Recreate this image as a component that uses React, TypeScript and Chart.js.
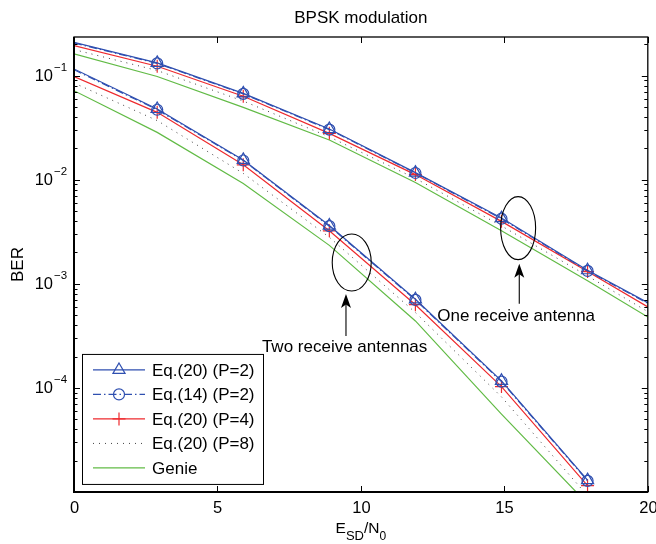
import React, { useEffect, useRef } from "react";
import { Chart, registerables } from "chart.js";
Chart.register(...registerables);

// ---------- data ----------
const snrOne = [0, 2.9, 5.9, 8.9, 11.9, 14.9, 17.9, 20];
const snrTwo = [0, 2.9, 5.9, 8.9, 11.9, 14.9, 17.9];

const eq20P2One = [0.209, 0.1325, 0.0676, 0.0307, 0.0117, 0.00428, 0.00135, 0.00066];
const eq14P2One = [0.206, 0.131, 0.0668, 0.0303, 0.0116, 0.00422, 0.00133, 0.00065];
const eq20P4One = [0.194, 0.123, 0.0633, 0.0279, 0.0112, 0.00398, 0.00131, 0.0006];
const eq20P8One = [0.178, 0.112, 0.057, 0.0258, 0.0103, 0.0036, 0.00119, 0.00054];
const genieOne = [0.162, 0.098, 0.0495, 0.0241, 0.0094, 0.00323, 0.00107, 0.00048];

const eq20P2Two = [0.116, 0.0478, 0.0155, 0.00363, 0.00071, 0.000117, 0.000013];
const eq14P2Two = [0.114, 0.047, 0.0153, 0.00358, 0.0007, 0.000115, 0.0000128];
const eq20P4Two = [0.098, 0.0444, 0.0139, 0.00323, 0.00063, 0.000103, 0.0000115];
const eq20P8Two = [0.085, 0.037, 0.0115, 0.0028, 0.00053, 0.000082, 0.0000092];
const genieTwo = [0.0717, 0.0285, 0.0092, 0.00234, 0.00044, 0.000056, 0.0000077];

const xTickValues = [0, 5, 10, 15, 20];
const yDecadeExponents = [-1, -2, -3, -4];
const legendLabels = ["Eq.(20) (P=2)", "Eq.(14) (P=2)", "Eq.(20) (P=4)", "Eq.(20) (P=8)", "Genie"];
const titleText = "BPSK modulation";
const yTitle = "BER";

const annotations = [
  { text: "Two receive antennas", textX: 6.55, textY: 2.43e-4, cx: 9.68, cy: 1.6e-3, arrowX: 9.48, arrowFrom: 3.16e-4, arrowTo: 8.0e-4 },
  { text: "One receive antenna", textX: 12.66, textY: 4.92e-4, cx: 15.48, cy: 3.43e-3, arrowX: 15.52, arrowFrom: 6.43e-4, arrowTo: 1.56e-3 },
];
const ellipseRadii = [[19.5, 28.5], [17.5, 31.5]];

// ---------- styles ----------
const FONT = '"Liberation Sans", Arial, Helvetica, sans-serif';
const BLUE = "#2f4fb0";
const RED = "#ee2a2e";
const GREEN = "#62bb46";
const DOT = "#444444";

type Style = {
  color: string;
  dash: number[];
  point: any;
  radius: number;
  width: number;
};
const styles: Style[] = [
  { color: BLUE, dash: [], point: "triangle", radius: 7, width: 1.2 },
  { color: BLUE, dash: [8, 3, 1.5, 3], point: "circle", radius: 5.5, width: 1.2 },
  { color: RED, dash: [], point: "cross", radius: 6.5, width: 1.2 },
  { color: DOT, dash: [1, 5], point: false, radius: 0, width: 1 },
  { color: GREEN, dash: [], point: false, radius: 0, width: 1.2 },
];

function makeDataset(xs: number[], ys: number[], s: Style) {
  return {
    data: xs.map((x, i) => ({ x, y: ys[i] })),
    borderColor: s.color,
    borderWidth: s.width,
    borderDash: s.dash,
    backgroundColor: "rgba(0,0,0,0)",
    pointStyle: s.point,
    pointRadius: (c: any) => (c.dataIndex === 0 || c.raw?.x >= 20 || !s.point ? 0 : s.radius),
    pointBorderColor: s.color,
    pointBackgroundColor: "rgba(0,0,0,0)",
    pointBorderWidth: 1.2,
    pointHoverRadius: 0,
    tension: 0,
    fill: false,
  };
}

function drawMarker(ctx: CanvasRenderingContext2D, style: Style, x: number, y: number) {
  if (!style.point) return;
  ctx.save();
  ctx.strokeStyle = style.color;
  ctx.lineWidth = 1.2;
  ctx.setLineDash([]);
  ctx.beginPath();
  if (style.point === "triangle") {
    const r = style.radius;
    for (let k = 0; k < 3; k++) {
      const a = (k * 2 * Math.PI) / 3;
      const px = x + Math.sin(a) * r;
      const py = y - Math.cos(a) * r;
      if (k === 0) ctx.moveTo(px, py);
      else ctx.lineTo(px, py);
    }
    ctx.closePath();
  } else if (style.point === "circle") {
    ctx.arc(x, y, style.radius, 0, Math.PI * 2);
  } else if (style.point === "cross") {
    const r = style.radius;
    ctx.moveTo(x - r, y);
    ctx.lineTo(x + r, y);
    ctx.moveTo(x, y - r);
    ctx.lineTo(x, y + r);
  }
  ctx.stroke();
  ctx.restore();
}

const decorPlugin = {
  id: "decor",
  afterDraw(chart: any) {
    const ctx: CanvasRenderingContext2D = chart.ctx;
    const { left, right, top, bottom } = chart.chartArea;
    const xs = chart.scales.x;
    const ys = chart.scales.y;
    ctx.save();
    ctx.fillStyle = "#000";
    ctx.strokeStyle = "#000";
    ctx.setLineDash([]);

    // frame
    ctx.lineWidth = 1.3;
    ctx.strokeRect(left, top, right - left, bottom - top);
    ctx.lineWidth = 2;
    ctx.beginPath();
    ctx.moveTo(left, top);
    ctx.lineTo(left, bottom);
    ctx.lineTo(right, bottom);
    ctx.stroke();

    // x ticks
    ctx.lineWidth = 1;
    ctx.font = `16.5px ${FONT}`;
    ctx.textAlign = "center";
    ctx.textBaseline = "middle";
    for (const t of xTickValues) {
      const px = Math.round(xs.getPixelForValue(t)) + 0.5;
      ctx.beginPath();
      ctx.moveTo(px, bottom);
      ctx.lineTo(px, bottom - 6);
      ctx.moveTo(px, top);
      ctx.lineTo(px, top + 6);
      ctx.stroke();
      ctx.fillText(String(t), px, bottom + 16);
    }

    // y ticks
    for (let e = -5; e <= 0; e++) {
      for (let m = 1; m <= 9; m++) {
        const v = m * Math.pow(10, e);
        if (v < ys.min * 0.999 || v > ys.max) continue;
        const py = Math.round(ys.getPixelForValue(v)) + 0.5;
        const len = m === 1 ? 6 : 3.5;
        ctx.beginPath();
        ctx.moveTo(left, py);
        ctx.lineTo(left + len, py);
        ctx.moveTo(right, py);
        ctx.lineTo(right - len, py);
        ctx.stroke();
      }
    }
    for (const e of yDecadeExponents) {
      const py = ys.getPixelForValue(Math.pow(10, e));
      ctx.font = `16.5px ${FONT}`;
      ctx.textAlign = "right";
      ctx.textBaseline = "middle";
      ctx.fillText("10", left - 21, py + 1);
      ctx.font = `11.5px ${FONT}`;
      ctx.textAlign = "left";
      ctx.fillText("\u2212" + String(-e), left - 20, py - 8);
    }

    // title
    ctx.font = `17px ${FONT}`;
    ctx.textAlign = "center";
    ctx.textBaseline = "alphabetic";
    ctx.fillText(titleText, (left + right) / 2, top - 14);

    // y title
    ctx.save();
    ctx.translate(left - 56, (top + bottom) / 2 + 0);
    ctx.rotate(-Math.PI / 2);
    ctx.font = `17px ${FONT}`;
    ctx.textAlign = "center";
    ctx.textBaseline = "middle";
    ctx.fillText(yTitle, 0, 0);
    ctx.restore();

    // x title: E_SD/N_0
    {
      const parts = [
        { t: "E", f: 15.5, dy: 0 },
        { t: "SD", f: 13, dy: 7 },
        { t: "/N", f: 15.5, dy: 0 },
        { t: "0", f: 12, dy: 7 },
      ];
      let total = 0;
      for (const p of parts) {
        ctx.font = `${p.f}px ${FONT}`;
        total += ctx.measureText(p.t).width;
      }
      let x0 = (left + right) / 2 - total / 2;
      const base = bottom + 41;
      ctx.textAlign = "left";
      ctx.textBaseline = "alphabetic";
      for (const p of parts) {
        ctx.font = `${p.f}px ${FONT}`;
        ctx.fillText(p.t, x0, base + p.dy);
        x0 += ctx.measureText(p.t).width;
      }
    }

    // annotations
    annotations.forEach((a, i) => {
      const cx = xs.getPixelForValue(a.cx);
      const cy = ys.getPixelForValue(a.cy);
      ctx.lineWidth = 1.1;
      ctx.strokeStyle = "#000";
      ctx.beginPath();
      ctx.ellipse(cx, cy, ellipseRadii[i][0], ellipseRadii[i][1], 0, 0, Math.PI * 2);
      ctx.stroke();
      const ax = xs.getPixelForValue(a.arrowX);
      const y1 = ys.getPixelForValue(a.arrowFrom);
      const y2 = ys.getPixelForValue(a.arrowTo);
      ctx.beginPath();
      ctx.moveTo(ax, y1);
      ctx.lineTo(ax, y2 + 8);
      ctx.stroke();
      ctx.beginPath();
      ctx.moveTo(ax, y2);
      ctx.lineTo(ax - 5, y2 + 14);
      ctx.lineTo(ax, y2 + 10.5);
      ctx.lineTo(ax + 5, y2 + 14);
      ctx.closePath();
      ctx.fill();
      ctx.font = `17px ${FONT}`;
      ctx.textAlign = "left";
      ctx.textBaseline = "middle";
      ctx.fillText(a.text, xs.getPixelForValue(a.textX), ys.getPixelForValue(a.textY));
    });

    // legend
    {
      const lx = left + 8;
      const ly = ys.getPixelForValue(2.12e-4);
      const lw = 181;
      const lh = 130;
      ctx.fillStyle = "#fff";
      ctx.fillRect(lx, ly, lw, lh);
      ctx.lineWidth = 1;
      ctx.strokeStyle = "#000";
      ctx.strokeRect(lx + 0.5, ly + 0.5, lw, lh);
      legendLabels.forEach((label, i) => {
        const s = styles[i];
        const y = ly + 16 + i * 24.5;
        ctx.save();
        ctx.strokeStyle = s.color;
        ctx.lineWidth = s.width;
        ctx.setLineDash(s.dash);
        ctx.beginPath();
        ctx.moveTo(lx + 11, y);
        ctx.lineTo(lx + 63, y);
        ctx.stroke();
        ctx.restore();
        drawMarker(ctx, s, lx + 37, y);
        ctx.fillStyle = "#000";
        ctx.font = `17px ${FONT}`;
        ctx.textAlign = "left";
        ctx.textBaseline = "middle";
        ctx.fillText(label, lx + 70, y + 1);
      });
    }
    ctx.restore();
  },
};

export default function App() {
  const ref = useRef<HTMLCanvasElement | null>(null);
  useEffect(() => {
    if (!ref.current) return;
    const chart = new Chart(ref.current, {
      type: "line",
      data: {
        datasets: [
          makeDataset(snrOne, eq20P2One, styles[0]),
          makeDataset(snrOne, eq14P2One, styles[1]),
          makeDataset(snrOne, eq20P4One, styles[2]),
          makeDataset(snrOne, eq20P8One, styles[3]),
          makeDataset(snrOne, genieOne, styles[4]),
          makeDataset(snrTwo, eq20P2Two, styles[0]),
          makeDataset(snrTwo, eq14P2Two, styles[1]),
          makeDataset(snrTwo, eq20P4Two, styles[2]),
          makeDataset(snrTwo, eq20P8Two, styles[3]),
          makeDataset(snrTwo, genieTwo, styles[4]),
        ] as any,
      },
      options: {
        animation: false,
        responsive: false,
        devicePixelRatio: 1,
        layout: { padding: { left: 74, top: 37, right: 8, bottom: 52 } },
        plugins: { legend: { display: false }, tooltip: { enabled: false }, title: { display: false } },
        events: [],
        scales: {
          x: { type: "linear", min: 0, max: 20, display: false },
          y: { type: "logarithmic", min: 1e-5, max: 0.235, display: false },
        },
      },
      plugins: [decorPlugin],
    });
    return () => chart.destroy();
  }, []);
  return (
    <div style={{ position: "absolute", left: 0, top: 0, width: 656, height: 544, background: "#fff" }}>
      <canvas ref={ref} width={656} height={544} style={{ width: 656, height: 544 }} />
    </div>
  );
}
